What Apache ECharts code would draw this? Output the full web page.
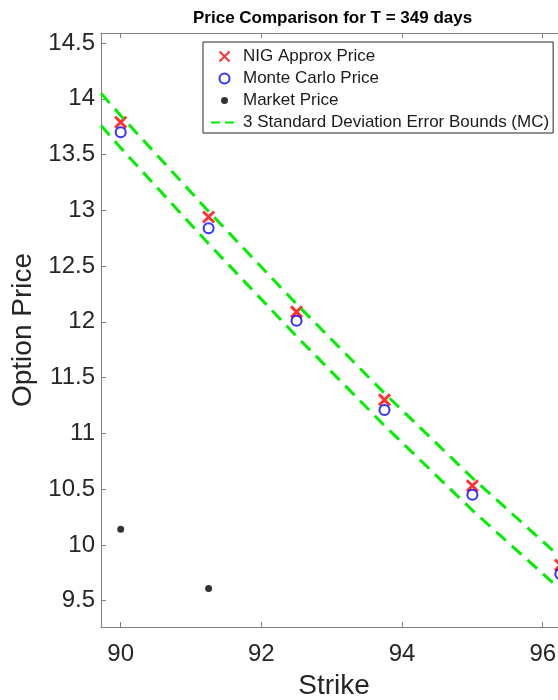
<!DOCTYPE html>
<html>
<head>
<meta charset="utf-8">
<script src="https://cdn.jsdelivr.net/npm/echarts@6/dist/echarts.min.js"></script>
<style>
  html, body { margin: 0; padding: 0; background: #fff; }
  #chart { width: 558px; height: 700px; }
</style>
</head>
<body>
<div id="chart"></div>
<script>
// ---- data ----
const strikes = [90, 91.25, 92.5, 93.75, 95, 96.25];
const nigPrices = [13.79, 12.94, 12.09, 11.30, 10.53, 9.82];
const mcPrices = [13.70, 12.84, 12.01, 11.21, 10.45, 9.74];
const marketStrikes = [90, 91.25];
const marketPrices = [10.14, 9.61];
const boundStrikes = [89.72, 90, 91.25, 92.5, 93.75, 95, 96.25];
const upperBound = [14.05, 13.85, 12.99, 12.16, 11.36, 10.60, 9.89];
const lowerBound = [13.76, 13.56, 12.70, 11.87, 11.07, 10.31, 9.60];
const xTicks = [90, 92, 94, 96];
const yTicks = [9.5, 10, 10.5, 11, 11.5, 12, 12.5, 13, 13.5, 14, 14.5];
const xRange = [89.72, 96.345];
const yRange = [9.264, 14.59];

const FONT = 'Liberation Sans, Arial, Helvetica, sans-serif';
const AXIS_COLOR = '#808080';
const TEXT_COLOR = '#262626';
const GREEN = '#00ee00';

const zip = (xs, ys) => xs.map((x, i) => [x, ys[i]]);

const chart = echarts.init(document.getElementById('chart'), null, { renderer: 'canvas' });

const xCross = 'path://M0,0L10,10M10,0L0,10';
const legendCross = 'path://M-2,-2M12,12M0,0L10,10M10,0L0,10';
const legendRing = 'path://M-2,-2M12,12M5,0A5,5,0,1,1,5,10A5,5,0,1,1,5,0Z';
const legendDot = 'path://M0,0M14,14M7,3.5A3.5,3.5,0,1,1,7,10.5A3.5,3.5,0,1,1,7,3.5Z';
const hidden = { color: 'rgba(0,0,0,0)', borderColor: 'rgba(0,0,0,0)', borderWidth: 0, opacity: 0 };

const option = {
  animation: false,
  backgroundColor: '#ffffff',
  textStyle: { fontFamily: FONT },
  title: {
    text: 'Price Comparison for T = 349 days',
    left: 193,
    top: 10,
    padding: 0,
    textStyle: { fontFamily: FONT, fontSize: 17, fontWeight: 'bold', color: '#000' }
  },
  grid: { left: 101, top: 33, width: 466, height: 594, containLabel: false, outerBoundsMode: 'none' },
  legend: {
    orient: 'vertical',
    left: 203,
    top: 42,
    padding: [6, 4, 2, 7],
    itemGap: 5,
    itemWidth: 27,
    itemHeight: 14,
    backgroundColor: '#fff',
    borderColor: '#262626',
    borderWidth: 1,
    selectedMode: false,
    textStyle: { fontFamily: FONT, fontSize: 17, color: '#1a1a1a', lineHeight: 17 },
    data: [
      { name: 'NIG Approx Price', icon: legendCross },
      { name: 'Monte Carlo Price', icon: legendRing },
      { name: 'Market Price', icon: legendDot },
      { name: '3 Standard Deviation Error Bounds (MC)', itemStyle: hidden, lineStyle: { color: GREEN, width: 2, type: [9, 5] } }
    ]
  },
  xAxis: [
    {
      type: 'value',
      position: 'bottom',
      min: xRange[0],
      max: xRange[1],
      name: 'Strike',
      nameLocation: 'middle',
      nameGap: 45,
      nameTextStyle: { fontFamily: FONT, fontSize: 28, color: TEXT_COLOR },
      axisLine: { show: true, onZero: false, lineStyle: { color: AXIS_COLOR, width: 1 } },
      axisTick: { show: true, inside: true, length: 5, customValues: xTicks, lineStyle: { color: AXIS_COLOR } },
      axisLabel: { customValues: xTicks, fontFamily: FONT, fontSize: 24, color: TEXT_COLOR, margin: 15 },
      splitLine: { show: false }
    },
    {
      type: 'value',
      position: 'top',
      min: xRange[0],
      max: xRange[1],
      axisLine: { show: true, onZero: false, lineStyle: { color: AXIS_COLOR, width: 1 } },
      axisTick: { show: true, inside: true, length: 5, customValues: xTicks, lineStyle: { color: AXIS_COLOR } },
      axisLabel: { show: false },
      splitLine: { show: false }
    }
  ],
  yAxis: {
    type: 'value',
    min: yRange[0],
    max: yRange[1],
    name: 'Option Price',
    nameLocation: 'middle',
    nameGap: 58,
    nameRotate: 90,
    nameTextStyle: { fontFamily: FONT, fontSize: 28, color: TEXT_COLOR },
    axisLine: { show: true, onZero: false, lineStyle: { color: AXIS_COLOR, width: 1 } },
    axisTick: { show: true, inside: true, length: 5, customValues: yTicks, lineStyle: { color: AXIS_COLOR } },
    axisLabel: { customValues: yTicks, fontFamily: FONT, fontSize: 24, color: TEXT_COLOR, margin: 6 },
    splitLine: { show: false }
  },
  series: [
    {
      name: 'NIG Approx Price',
      type: 'scatter',
      xAxisIndex: 0,
      symbol: xCross,
      symbolSize: 11,
      itemStyle: { color: 'rgba(0,0,0,0)', borderColor: '#ff0000', borderWidth: 3 },
      data: zip(strikes, nigPrices)
    },
    {
      name: 'Monte Carlo Price',
      type: 'scatter',
      xAxisIndex: 0,
      symbol: 'circle',
      symbolSize: 10,
      itemStyle: { color: 'rgba(0,0,0,0)', borderColor: '#0000ff', borderWidth: 2 },
      data: zip(strikes, mcPrices)
    },
    {
      name: 'Market Price',
      type: 'scatter',
      xAxisIndex: 0,
      symbol: 'circle',
      symbolSize: 7,
      itemStyle: { color: '#000000' },
      data: zip(marketStrikes, marketPrices)
    },
    {
      name: '3 Standard Deviation Error Bounds (MC)',
      type: 'line',
      xAxisIndex: 0,
      symbol: 'none',
      lineStyle: { color: GREEN, width: 3, type: [13, 8] },
      itemStyle: { color: GREEN },
      data: zip(boundStrikes, upperBound)
    },
    {
      name: '3 Standard Deviation Error Bounds (MC)',
      type: 'line',
      xAxisIndex: 0,
      symbol: 'none',
      lineStyle: { color: GREEN, width: 3, type: [13, 8] },
      itemStyle: { color: GREEN },
      data: zip(boundStrikes, lowerBound)
    }
  ]
};

chart.setOption(option);
</script>
</body>
</html>
